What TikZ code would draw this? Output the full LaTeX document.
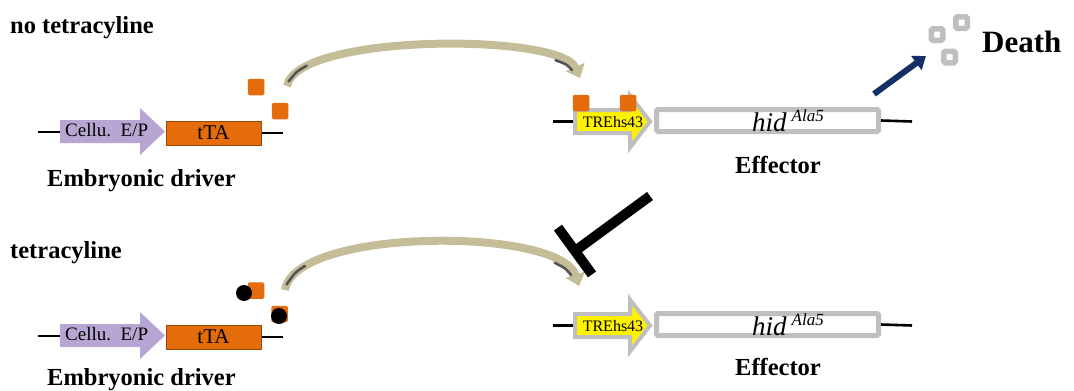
\documentclass[tikz,border=0pt]{standalone}
\usepackage{fontspec}
\setmainfont{Liberation Serif}[
  BoldFont={Liberation Serif Bold},
  ItalicFont={Liberation Serif Italic},
  BoldItalicFont={Liberation Serif Bold Italic}]
\usetikzlibrary{arrows.meta}

\definecolor{tetorange}{HTML}{E46C0A}
\definecolor{tetedge}{HTML}{984807}
\definecolor{promfill}{HTML}{B7A6D3}
\definecolor{genegray}{HTML}{BFBFBF}
\definecolor{curvetan}{HTML}{C4BD97}
\definecolor{curvedark}{HTML}{555555}
\definecolor{deathnavy}{HTML}{142F66}

\begin{document}
\begin{tikzpicture}[x=1pt,y=-1pt,
  wire/.style={line width=2.6pt, black},
  promoter/.style={fill=promfill, draw=none},
  ttabox/.style={rectangle, fill=tetorange, draw=tetedge, line width=1pt,
    minimum width=95pt, minimum height=24pt, inner sep=0pt,
    font=\fontsize{21}{21}\selectfont},
  tre/.style={draw=genegray, fill=yellow, line width=4pt, line join=miter},
  hidbox/.style={rectangle, draw=genegray, fill=white, line width=5pt,
    rounded corners=1.5pt, minimum width=222pt, minimum height=22pt, inner sep=0pt},
  tfsq/.style={rectangle, fill=tetorange, minimum size=16.5pt, inner sep=0pt,
    rounded corners=1.5pt},
  tetdot/.style={circle, fill=black, minimum size=16pt, inner sep=0pt},
  label/.style={font=\fontsize{24.5}{24.5}\selectfont\bfseries, inner sep=0pt},
  promtext/.style={font=\fontsize{19}{19}\selectfont, inner sep=0pt},
  tretext/.style={font=\fontsize{16}{16}\selectfont, inner sep=0pt},
  hidtext/.style={font=\fontsize{27}{27}\selectfont\itshape, inner sep=0pt},
  curve/.style={curvetan, line width=8pt,
    -{Triangle[width=20pt,length=12pt]}},
  curveshade/.style={curvedark, line width=2.6pt, line cap=round},
  debris/.style={rectangle, draw=genegray, fill=white, line width=5.5pt,
    minimum size=11.5pt, inner sep=0pt, rounded corners=1.5pt},
  block/.style={black, line width=10pt}
]
\useasboundingbox (0,0) rectangle (1074,391);

% condition headings
\node[label, anchor=base west] (headA) at (10,33) {no tetracyline};
\node[label, anchor=base west] (headB) at (10,258) {tetracyline};

% the two constructs, once per condition
\foreach \r/\dy in {A/0, B/204}{
  \begin{scope}[shift={(0,\dy)}]
    % embryonic driver: promoter arrow and tTA
    \coordinate (w\r0) at (38,132);
    \coordinate (w\r1) at (60,132);
    \fill[promoter] (60,120) -- (140,120) -- (140,108) -- (165,131.5)
      -- (140,155) -- (140,143) -- (60,143) -- cycle;
    \node[promtext, anchor=base west] (prom\r) at (65,136) {Cellu.\ \ E/P};
    \node[ttabox] (tta\r) at (213.5,133) {tTA};
    \coordinate (w\r2) at (283,133);
    \draw[wire] (w\r0) -- (w\r1);
    \draw[wire] (tta\r.east) -- (w\r2);

    % effector: TRE arrow and hid box
    \coordinate (e\r0) at (553,121.5);
    \coordinate (e\r1) at (575,121.5);
    \draw[wire] (e\r0) -- (e\r1);
    \draw[tre] (575,110) -- (630,110) -- (630,95.5) -- (650,121.5)
      -- (630,147.5) -- (630,133) -- (575,133) -- cycle;
    \node[tretext] (tre\r) at (613,122) {TREhs43};
    \node[hidbox] (hid\r) at (767.5,120.5) {};
    \coordinate (e\r2) at (912,121.5);
    \draw[wire] (hid\r.east) -- (e\r2);
    \node[hidtext, anchor=base west] (hidtxt\r) at (752,131)
      {hid\hspace{5pt}\raisebox{10pt}{\fontsize{17}{17}\selectfont Ala5}};
  \end{scope}
}

% construct labels
\node[label, anchor=base west] (drvA) at (47,186) {Embryonic driver};
\node[label, anchor=base west] (drvB) at (47,385) {Embryonic driver};
\node[label, anchor=base] (effA) at (778,173) {Effector};
\node[label, anchor=base] (effB) at (778,375) {Effector};

% tTA protein: free, and bound to the promoter
\node[tfsq] (sqA1) at (256,87) {};
\node[tfsq] (sqA2) at (280,111) {};
\node[tfsq] (sqA3) at (581,103) {};
\node[tfsq] (sqA4) at (628,103) {};

% tTA held by tetracycline
\node[tfsq] (sqB1) at (256,290.5) {};
\node[tfsq] (sqB2) at (279.5,314) {};
\node[tetdot] (dotB1) at (244,293) {};
\node[tetdot] (dotB2) at (279,316) {};

% curved transfer arrows, darker along the inside near both ends
\coordinate (cA0) at (287,86);
\coordinate (cA1) at (580,78);
\draw[curve] (cA0) .. controls (297,33) and (560,33) .. (cA1);
\draw[curveshade] plot[smooth] coordinates {(288.6,81.4) (297.1,71.7) (306.8,65.7)};
\draw[curveshade] plot[smooth] coordinates {(555.5,60.2) (566,64.5) (572,70)};

\coordinate (cB0) at (285,290);
\coordinate (cB1) at (579,286);
\draw[curve] (cB0) .. controls (295,227) and (560,227) .. (cB1);
\draw[curveshade] plot[smooth] coordinates {(286.6,284.5) (295.2,273.0) (305,265.9)};
\draw[curveshade] plot[smooth] coordinates {(554.8,262.8) (565,268.5) (571,275)};

% inhibition bar
\coordinate (tS) at (650,196);
\coordinate (tE) at (575,251);
\coordinate (tL) at (558,227.6);
\coordinate (tR) at (592,274.4);
\draw[block] (tS) -- (tE);
\draw[block] (tL) -- (tR);

% cell death
\coordinate (dA) at (874,94);
\coordinate (dB) at (926,56);
\draw[deathnavy, line width=6pt, -{Triangle[width=17pt,length=12pt]}] (dA) -- (dB);
\node[debris] (deb1) at (937,34.5) {};
\node[debris] (deb2) at (961.5,22.5) {};
\node[debris] (deb3) at (949.5,57) {};
\node[anchor=base west, font=\fontsize{31}{31}\selectfont\bfseries, inner sep=0pt]
  (death) at (982,52) {Death};
\end{tikzpicture}
\end{document}
